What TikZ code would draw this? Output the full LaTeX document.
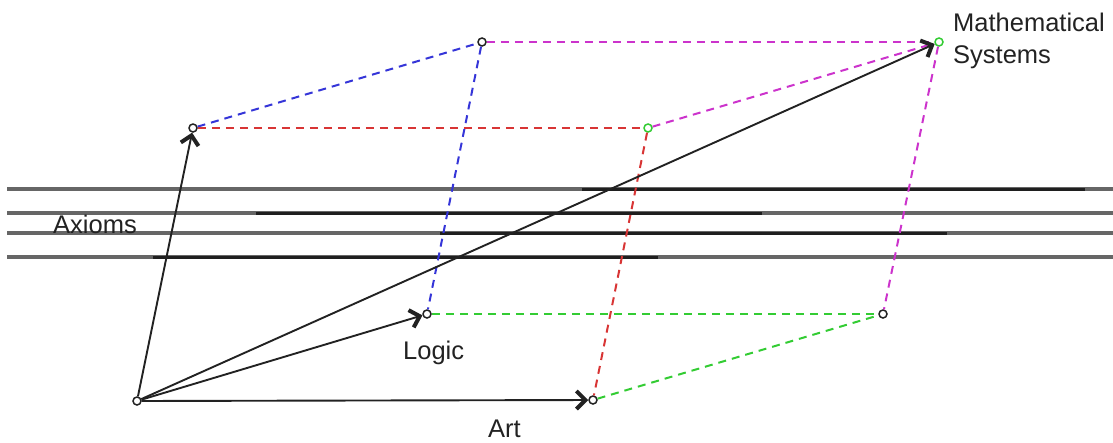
\documentclass[tikz,border=0pt]{standalone}
\usepackage{fontspec}
\setmainfont{Liberation Sans}
\usetikzlibrary{arrows.meta}
\definecolor{cblue}{HTML}{3535D8}
\definecolor{cred}{HTML}{D83535}
\definecolor{cmag}{HTML}{CC33CC}
\definecolor{cgreen}{HTML}{33CC33}
\definecolor{ink}{HTML}{222222}
\begin{document}
\begin{tikzpicture}[x=1pt,y=-1pt,
  pnt/.style={circle,draw=ink,fill=white,inner sep=0pt,minimum size=8pt,line width=1.5pt},
  vec/.style={line width=1.9pt,draw=ink,-{Straight Barb[length=9pt,width=18pt,line width=4pt]}},
  dl/.style={line width=2pt,dash pattern=on 8pt off 6pt},
  bar/.style={line width=3.5pt,draw=black!60},
  darkbar/.style={line width=3pt,draw=black!88},
  lbl/.style={font=\fontsize{25.5}{32}\selectfont,inner sep=0pt,text=ink}]
\useasboundingbox (0,0) rectangle (1113,442);
% moving bars
\draw[bar] (7,189) -- (1113,189);
\draw[bar] (7,213) -- (1113,213);
\draw[bar] (7,233) -- (1113,233);
\draw[bar] (7,257) -- (1113,257);
\draw[darkbar] (582,189) -- (1085,189);
\draw[darkbar] (256,213) -- (762,213);
\draw[darkbar] (440,233) -- (947,233);
\draw[darkbar] (153,257) -- (658,257);
% points
\node[pnt] (O) at (137,401) {};
\node[pnt] (A) at (193,128) {};
\node[pnt] (T) at (482,42) {};
\node[pnt] (L) at (427,314) {};
\node[pnt] (R) at (593,400) {};
\node[pnt,draw=cgreen] (G) at (648,128) {};
\node[pnt,draw=cgreen] (M) at (939,42) {};
\node[pnt] (P) at (883,314) {};
% dashed parallelepiped edges
\draw[dl,cblue] (A) -- (T);
\draw[dl,cblue] (T) -- (L);
\draw[dl,cred] (A) -- (G);
\draw[dl,cred] (G) -- (R);
\draw[dl,cmag] (T) -- (M);
\draw[dl,cmag] (G) -- (M);
\draw[dl,cmag] (M) -- (P);
\draw[dl,cgreen] (L) -- (P);
\draw[dl,cgreen] (R) -- (P);
% vectors
\draw[vec] (O) -- (A);
\draw[vec] (O) -- (L);
\draw[vec] (O) -- (R);
\draw[vec] (O) -- (M);
% labels
\node[lbl,anchor=base west] (ax) at (53,233) {Axioms};
\node[lbl,anchor=base west] (lg) at (403,359) {Logic};
\node[lbl,anchor=base west] (ar) at (488,437) {Art};
\node[lbl,anchor=base west] (ms1) at (953,31) {Mathematical};
\node[lbl,anchor=base west] (ms2) at (953,63) {Systems};
\end{tikzpicture}
\end{document}
